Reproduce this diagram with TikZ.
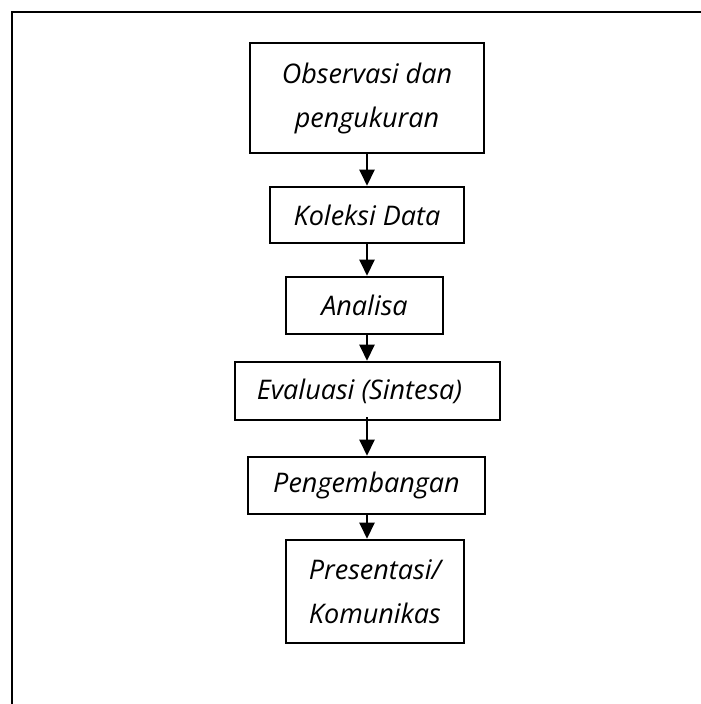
\documentclass[tikz,border=0pt]{standalone}
\usepackage{fontspec}
\setmainfont{Open Sans}
\usetikzlibrary{arrows.meta}
\begin{document}
\begin{tikzpicture}[x=1pt,y=-1pt,
  box/.style={draw, line width=2.6pt, inner sep=0pt, align=center,
    font=\fontsize{27}{44}\selectfont\itshape},
  flow/.style={line width=2.5pt, -{Triangle[length=16pt,width=15pt]}}]
\useasboundingbox (0,0) rectangle (701,704);
\draw[line width=2.8pt] (12,710) -- (12,12) -- (710,12);
\node[box, minimum width=234pt, minimum height=110pt] (b1) at (367,98) {Observasi dan\\pengukuran};
\node[box, minimum width=194pt, minimum height=56pt] (b2) at (367,215) {Koleksi Data};
\node[box, minimum width=157pt, minimum height=57pt] (b3) at (364.5,305.5) {Analisa};
\node[box, minimum width=265pt, minimum height=58pt] (b4) at (367.5,391) {Evaluasi (Sintesa)\hspace*{16pt}};
\node[box, minimum width=237pt, minimum height=57pt] (b5) at (366.5,485.5) {Pengembangan};
\node[box, minimum width=178pt, minimum height=103pt, align=left] (b6) at (375,591.5) {Presentasi/\\Komunikas};
\coordinate (a4s) at ([yshift=4pt]b4.south);
\draw[flow] (b1.south) -- (b2.north);
\draw[flow] (b2.south) -- (b2.south |- b3.north);
\draw[flow] (b2.south |- b3.south) -- (b4.north -| b2.south);
\draw[flow] (a4s -| b2.south) -- (b5.north -| b2.south);
\draw[flow] (b5.south -| b2.south) -- (b6.north -| b2.south);
\end{tikzpicture}
\end{document}
